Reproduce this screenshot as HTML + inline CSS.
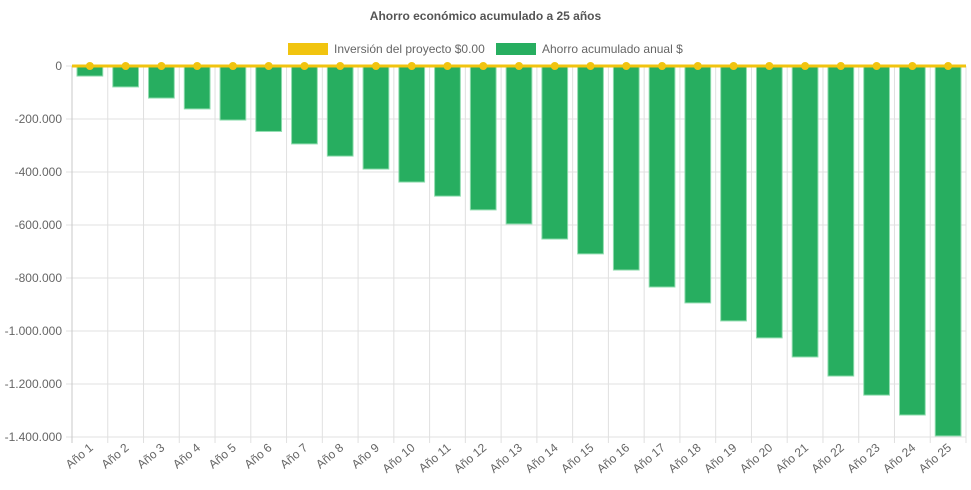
<!DOCTYPE html>
<html><head><meta charset="utf-8"><style>
body{margin:0;background:#fff;font-family:"Liberation Sans",sans-serif;}
svg text{font-family:"Liberation Sans",sans-serif;}
</style></head><body>
<svg id="c" width="971" height="485"></svg>
<script>
const categories=["Año 1","Año 2","Año 3","Año 4","Año 5","Año 6","Año 7","Año 8","Año 9","Año 10","Año 11","Año 12","Año 13","Año 14","Año 15","Año 16","Año 17","Año 18","Año 19","Año 20","Año 21","Año 22","Año 23","Año 24","Año 25"];
const ahorro=[-38000,-79000,-121000,-162000,-204000,-247000,-294000,-340000,-389000,-438000,-491000,-543000,-596000,-653000,-709000,-770000,-834000,-894000,-962000,-1026000,-1098000,-1170000,-1242000,-1317000,-1396000];
const inversion=[0,0,0,0,0,0,0,0,0,0,0,0,0,0,0,0,0,0,0,0,0,0,0,0,0];
const yTicks=[0,-200000,-400000,-600000,-800000,-1000000,-1200000,-1400000];
const yTickLabels=["0","-200.000","-400.000","-600.000","-800.000","-1.000.000","-1.200.000","-1.400.000"];
const L=72,R=966,T=66,B=437,yMin=-1400000,yMax=0;
const svg=document.getElementById('c');const NS="http://www.w3.org/2000/svg";
function y(v){return T+(yMax-v)/(yMax-yMin)*(B-T);}
const bw=(R-L)/categories.length;
function x(i){return L+bw*(i+0.5);}
function mk(t,a,p){const e=document.createElementNS(NS,t);for(const k in a)e.setAttribute(k,a[k]);(p||svg).appendChild(e);return e;}
let t=mk('text',{x:485.5,y:20,'text-anchor':'middle','font-size':12,'font-weight':'bold',fill:'#555'});t.textContent="Ahorro económico acumulado a 25 años";


// legend
let g=mk('g',{});


mk('rect',{x:288,y:43,width:40,height:12,fill:'#f1c40f'},g);
t=mk('text',{x:334,y:53,'font-size':12,fill:'#666'},g);t.textContent="Inversión del proyecto $0.00";
g=mk('g',{});


mk('rect',{x:496,y:43,width:40,height:12,fill:'#27ae60'},g);
t=mk('text',{x:542,y:53,'font-size':12,fill:'#666'},g);t.textContent="Ahorro acumulado anual $";
// grid
yTicks.forEach((v,i)=>{const l=mk('line',{x1:L-6,x2:R,y1:y(v),y2:y(v),stroke:'#e0e0e0'});


const tx=mk('text',{x:L-10,y:y(v)+4,'text-anchor':'end','font-size':12,fill:'#666'});tx.textContent=yTickLabels[i];

});
for(let i=0;i<=categories.length;i++){const xx=L+bw*i;const l=mk('line',{x1:xx,x2:xx,y1:T,y2:B+6,stroke:i==0?'#c8c8c8':'#e0e0e0'});

}
categories.forEach((c,i)=>{const tx=mk('text',{x:x(i)+4,y:B+12,'text-anchor':'end','font-size':12,fill:'#666',transform:`rotate(-40 ${x(i)+4} ${B+12})`});tx.textContent=c;

});
// bars
const w=bw*0.72;
ahorro.forEach((v,i)=>{const r=mk('rect',{x:x(i)-w/2,y:y(0),width:w,height:y(v)-y(0),fill:'#27ae60',stroke:'#8fdcae','stroke-width':1});

});
// line
let d=inversion.map((v,i)=>(i?'L':'M')+x(i)+' '+y(v)).join(' ');
d="M"+L+" "+y(inversion[0])+" "+d.slice(1)+" L"+R+" "+y(inversion[inversion.length-1]);
const p=mk('path',{d:d,stroke:'#f1c40f','stroke-width':3,fill:'none'});


inversion.forEach((v,i)=>{const c=mk('circle',{cx:x(i),cy:y(v),r:4,fill:'#f1c40f'});

});
</script>
</body></html>
